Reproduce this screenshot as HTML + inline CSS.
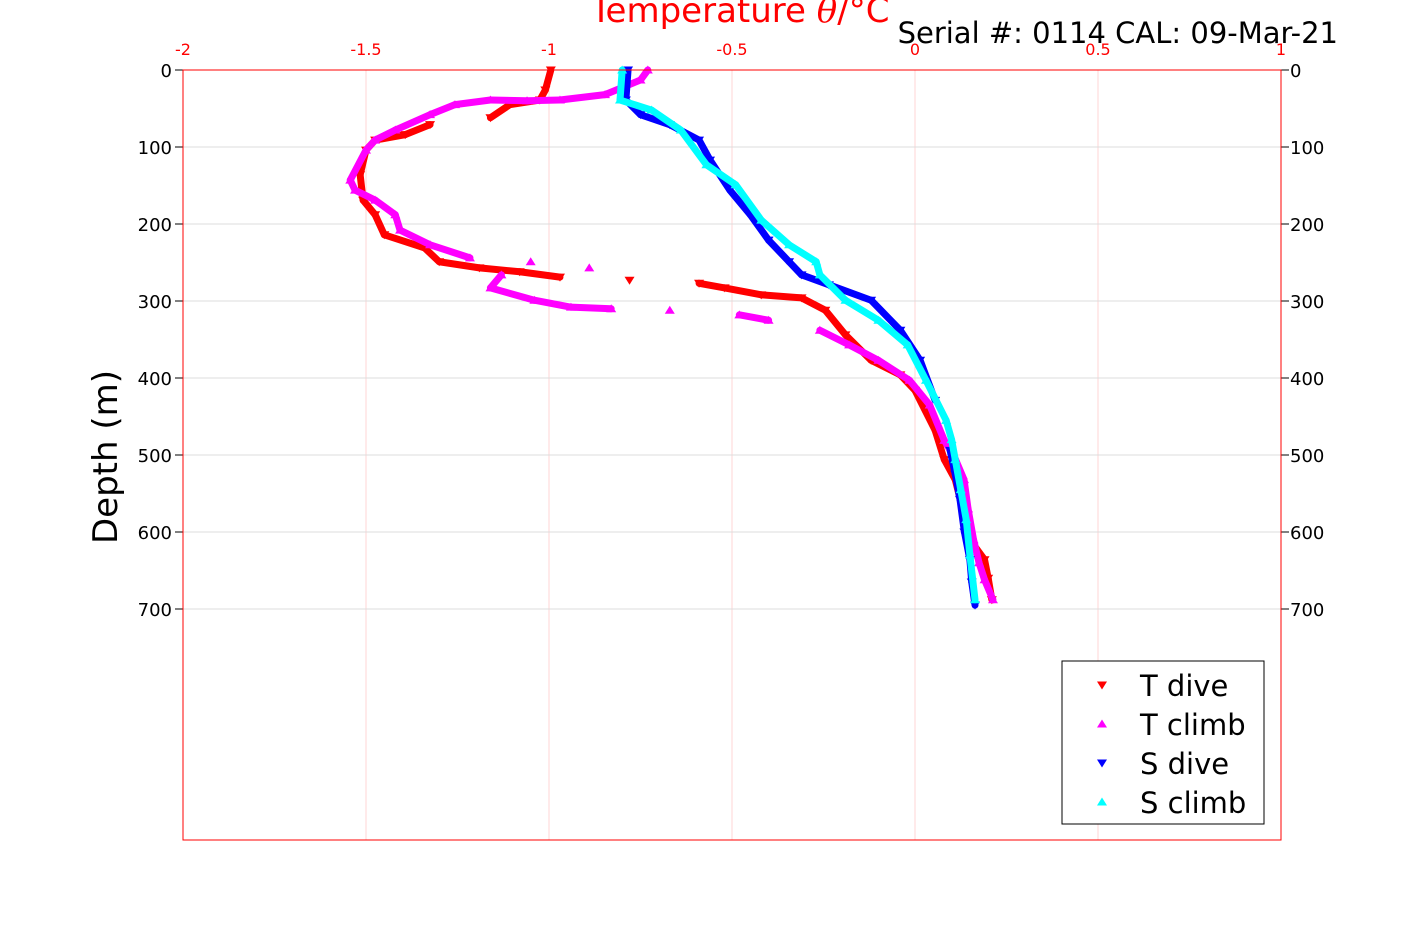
<!DOCTYPE html>
<html><head><meta charset="utf-8"><style>
body{margin:0;background:#fff;}
svg text{font-family:"DejaVu Sans","Liberation Sans",sans-serif;}
</style></head><body>
<svg id="c" width="1417" height="945" viewBox="0 0 1417 945" xmlns="http://www.w3.org/2000/svg">
<rect x="0" y="0" width="1417" height="945" fill="#fff"/>
<g id="grid"></g><g id="series"></g><g id="axes"></g>
<text x="740" y="22" text-anchor="middle" fill="#ff0000" font-size="34">Temperature <tspan font-style="italic" font-family="DejaVu Serif, serif">θ</tspan>/°C</text>
<text x="1338" y="43" text-anchor="end" fill="#000" font-size="29">Serial #: 0114  CAL: 09-Mar-21</text>
<text transform="translate(117,457) rotate(-90)" text-anchor="middle" fill="#000" font-size="34">Depth (m)</text>
<g>
<rect x="1062" y="661" width="202" height="163" fill="#fff" stroke="#000" stroke-width="1"/>
<g id="legend"></g>
</g>
</svg>
<script>
const xTicks=[-2,-1.5,-1,-0.5,0,0.5,1];
const xTickLabels=["-2","-1.5","-1","-0.5","0","0.5","1"];
const yTicks=[0,100,200,300,400,500,600,700];
const yTickLabels=["0","100","200","300","400","500","600","700"];
const seriesNames=["T dive","T climb","S dive","S climb"];
const tDiveT=[-0.995,-1.01,-1.025,-1.107,-1.16,-1.325,-1.393,-1.475,-1.5,-1.516,-1.508,-1.475,-1.45,-1.34,-1.3,-1.19,-1.08,-0.97,-0.78,-0.59,-0.52,-0.42,-0.31,-0.245,-0.19,-0.12,-0.04,0.0,0.055,0.08,0.11,0.13,0.15,0.19,0.2,0.21];
const tDiveD=[0,26,39,45,62,71,84,91,104,136,169,188,214,231,249,257,262,269,273,277,283,292,296,312,344,377,396,416,468,506,532,570,610,636,660,688];
const tClimbT=[-0.73,-0.75,-0.847,-0.97,-1.06,-1.16,-1.257,-1.325,-1.42,-1.475,-1.5,-1.543,-1.53,-1.475,-1.42,-1.407,-1.325,-1.216,-1.05,-0.89,-1.13,-1.16,-1.04,-0.94,-0.83,-0.67,-0.48,-0.4,-0.26,-0.18,-0.1,-0.015,0.04,0.08,0.11,0.134,0.145,0.16,0.175,0.19,0.213];
const tClimbD=[0,13,32,39,40,39,45,58,78,91,104,143,156,169,188,208,227,244,249,257,266,283,299,308,310,312,318,325,338,357,377,403,435,481,505,532,570,610,640,662,688];
const sDiveT=[-0.784,-0.79,-0.75,-0.67,-0.59,-0.56,-0.506,-0.45,-0.4,-0.344,-0.31,-0.235,-0.12,-0.04,0.014,0.055,0.096,0.11,0.123,0.135,0.15,0.155,0.164];
const sDiveD=[0,39,58,71,91,117,156,188,221,249,266,279,299,338,377,429,494,525,558,600,636,665,695];
const sClimbT=[-0.8,-0.806,-0.72,-0.64,-0.57,-0.49,-0.42,-0.344,-0.27,-0.26,-0.19,-0.1,-0.02,0.03,0.085,0.1,0.11,0.125,0.14,0.15,0.164];
const sClimbD=[0,39,52,78,123,149,195,227,249,266,299,325,357,403,455,480,506,545,584,630,688];

const NS="http://www.w3.org/2000/svg";
const L=183,R=1281,T=70,B=840;
const xS=v=>L+(v+2)/3*(R-L);
const yS=d=>T+d/1000*(B-T);
function mk(tag,a,p){const e=document.createElementNS(NS,tag);for(const k in a)e.setAttribute(k,a[k]);p.appendChild(e);return e;}
const grid=document.getElementById('grid'),axes=document.getElementById('axes'),ser=document.getElementById('series');
xTicks.forEach((v,i)=>{
 const g=mk('line',{x1:xS(v),x2:xS(v),y1:T,y2:B,stroke:'#ffd6d6','stroke-width':1},grid);
 
 
 const t=mk('text',{x:xS(v),y:55,'text-anchor':'middle',fill:'#ff0000','font-size':16},axes);
 t.textContent=xTickLabels[i];
 
 
});
yTicks.forEach((v,i)=>{
 const g=mk('line',{x1:L,x2:R,y1:yS(v),y2:yS(v),stroke:'#dcdcdc','stroke-width':1},grid);
 
 
 const t=mk('text',{x:172,y:yS(v)+7,'text-anchor':'end',fill:'#000','font-size':18},axes);
 t.textContent=yTickLabels[i];
 
 
 const t2=mk('text',{x:1290,y:yS(v)+7,'text-anchor':'start',fill:'#000','font-size':18},axes);
 t2.textContent=yTickLabels[i];
 
 
 mk('line',{x1:L-8,x2:L,y1:yS(v),y2:yS(v),stroke:'#000'},axes);
 mk('line',{x1:R,x2:R+8,y1:yS(v),y2:yS(v),stroke:'#000'},axes);
});
const fr=mk('rect',{x:L,y:T,width:R-L,height:B-T,fill:'none',stroke:'#ff0000','stroke-width':1},axes);


function tri(x,y,down,col,p,s){
 const h=s;const pts=down?`${x-h},${y-h*0.7} ${x+h},${y-h*0.7} ${x},${y+h*0.9}`:`${x-h},${y+h*0.7} ${x+h},${y+h*0.7} ${x},${y-h*0.9}`;
 return mk('polygon',{points:pts,fill:col},p);
}
const sets=[[tDiveT,tDiveD,'#ff0000',true,'t-dive'],[tClimbT,tClimbD,'#ff00ff',false,'t-climb'],[sDiveT,sDiveD,'#0000ff',true,'s-dive'],[sClimbT,sClimbD,'#00ffff',false,'s-climb']];
sets.forEach(([xs,ds,col,down,nm])=>{
 const g=mk('g',{},ser);
 
 
 for(let i=1;i<xs.length;i++){
  const x1=xS(xs[i-1]),y1=yS(ds[i-1]),x2=xS(xs[i]),y2=yS(ds[i]);
  if(Math.hypot(x2-x1,y2-y1)<48) mk('line',{x1,y1,x2,y2,stroke:col,'stroke-width':7,'stroke-linecap':'round'},g);
 }
 xs.forEach((v,i)=>{
  const p=tri(xS(v),yS(ds[i]),down,col,g,5);
  
  
 });
});
const lg=document.getElementById('legend');
sets.forEach((s,i)=>{
 const y=685+i*39;
 const m=tri(1102,y,s[3],s[2],lg,5);
 
 
 const t=mk('text',{x:1140,y:y+11,fill:'#000','font-size':29},lg);
 t.textContent=seriesNames[i];
 
 
});
</script>
</body></html>
